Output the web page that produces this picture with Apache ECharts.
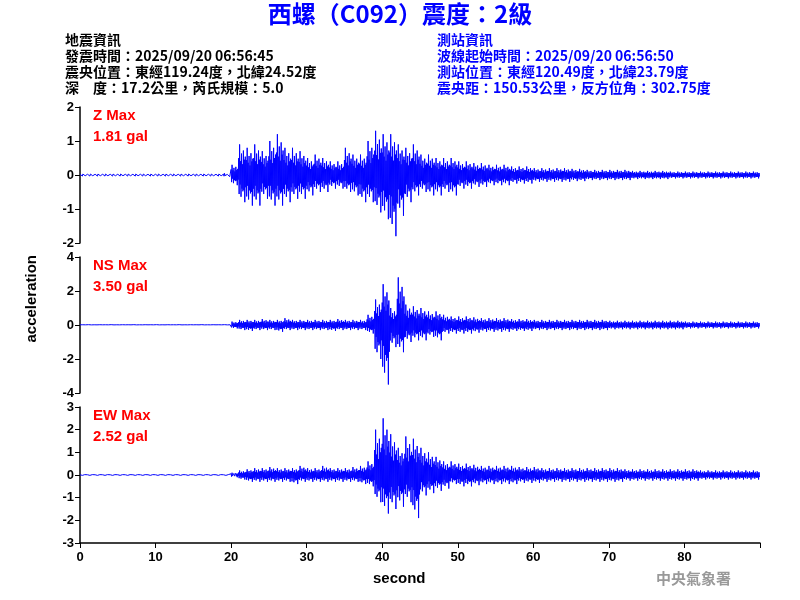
<!DOCTYPE html>
<html><head><meta charset="utf-8">
<script src="https://cdn.jsdelivr.net/npm/echarts@6/dist/echarts.min.js"></script>
<style>html,body{margin:0;padding:0;background:#fff}#c{width:800px;height:600px}</style>
</head><body><div id="c"></div>
<script>
// per-second envelope (max / min), seconds 0..89
const zUp = [0.04,0.04,0.04,0.04,0.04,0.04,0.04,0.04,0.04,0.04,0.04,0.04,0.04,0.04,0.04,0.04,0.04,0.04,0.04,0.05,
 0.3,0.9,0.8,0.9,0.7,1.0,1.2,0.8,0.8,0.7, 0.5,0.6,0.5,0.4,0.4,0.8,0.6,0.6,1.0,1.3,
 1.2,1.2,0.9,0.8,0.9,0.6,0.6,0.5,0.5,0.5, 0.4,0.4,0.35,0.35,0.3,0.3,0.3,0.25,0.25,0.25,
 0.2,0.2,0.2,0.2,0.2,0.18,0.18,0.15,0.15,0.15, 0.15,0.15,0.15,0.12,0.12,0.12,0.12,0.12,0.1,0.1,
 0.1,0.1,0.1,0.1,0.1,0.1,0.1,0.1,0.1,0.1];
const zLo = [-0.04,-0.04,-0.04,-0.04,-0.04,-0.04,-0.04,-0.04,-0.04,-0.04,-0.04,-0.04,-0.04,-0.04,-0.04,-0.04,-0.04,-0.04,-0.04,-0.05,
 -0.3,-0.8,-0.9,-0.9,-0.7,-0.9,-0.9,-0.8,-0.7,-0.7, -0.6,-0.5,-0.5,-0.4,-0.4,-0.5,-0.6,-0.8,-0.8,-1.1,
 -1.3,-1.8,-1.2,-0.8,-0.6,-0.5,-0.6,-0.6,-0.5,-0.6, -0.4,-0.4,-0.35,-0.35,-0.3,-0.3,-0.3,-0.25,-0.25,-0.25,
 -0.2,-0.2,-0.2,-0.2,-0.2,-0.18,-0.18,-0.15,-0.15,-0.15, -0.15,-0.15,-0.15,-0.12,-0.12,-0.12,-0.12,-0.12,-0.1,-0.1,
 -0.1,-0.1,-0.1,-0.1,-0.1,-0.1,-0.1,-0.1,-0.1,-0.1];
const nsUp = [0.02,0.02,0.02,0.02,0.02,0.02,0.02,0.02,0.02,0.02,0.02,0.02,0.02,0.02,0.02,0.02,0.02,0.02,0.02,0.02,
 0.2,0.3,0.3,0.3,0.35,0.3,0.3,0.4,0.3,0.3, 0.3,0.3,0.3,0.3,0.35,0.3,0.3,0.3,0.6,1.5,
 2.4,1.0,2.8,1.2,1.1,1.0,0.8,0.8,0.6,0.5, 0.5,0.5,0.45,0.4,0.4,0.4,0.4,0.35,0.35,0.35,
 0.3,0.3,0.3,0.3,0.3,0.3,0.3,0.3,0.3,0.3, 0.25,0.25,0.25,0.25,0.25,0.25,0.25,0.25,0.25,0.25,
 0.2,0.2,0.2,0.2,0.2,0.2,0.2,0.2,0.2,0.2];
const nsLo = [-0.02,-0.02,-0.02,-0.02,-0.02,-0.02,-0.02,-0.02,-0.02,-0.02,-0.02,-0.02,-0.02,-0.02,-0.02,-0.02,-0.02,-0.02,-0.02,-0.02,
 -0.2,-0.3,-0.35,-0.3,-0.3,-0.3,-0.4,-0.3,-0.3,-0.3, -0.3,-0.3,-0.3,-0.35,-0.3,-0.3,-0.3,-0.3,-0.5,-2.0,
 -3.5,-1.3,-1.6,-1.0,-0.9,-0.9,-0.7,-0.9,-0.5,-0.5, -0.5,-0.5,-0.45,-0.4,-0.4,-0.4,-0.4,-0.35,-0.35,-0.35,
 -0.3,-0.3,-0.3,-0.3,-0.3,-0.3,-0.3,-0.3,-0.3,-0.3, -0.25,-0.25,-0.25,-0.25,-0.25,-0.25,-0.25,-0.25,-0.25,-0.25,
 -0.2,-0.2,-0.2,-0.2,-0.2,-0.2,-0.2,-0.2,-0.2,-0.2];
const ewUp = [0.02,0.02,0.02,0.02,0.02,0.02,0.02,0.02,0.02,0.02,0.02,0.02,0.02,0.02,0.02,0.02,0.02,0.02,0.02,0.02,
 0.1,0.2,0.25,0.3,0.3,0.35,0.3,0.3,0.3,0.4, 0.3,0.3,0.4,0.3,0.3,0.3,0.35,0.4,0.6,2.0,
 2.5,1.8,1.2,1.7,1.6,1.2,1.0,0.8,0.6,0.6, 0.5,0.5,0.45,0.4,0.4,0.4,0.4,0.4,0.35,0.35,
 0.35,0.3,0.3,0.3,0.3,0.3,0.3,0.3,0.3,0.3, 0.3,0.3,0.25,0.25,0.25,0.25,0.25,0.25,0.25,0.25,
 0.25,0.25,0.2,0.2,0.2,0.2,0.2,0.2,0.2,0.2];
const ewLo = [-0.02,-0.02,-0.02,-0.02,-0.02,-0.02,-0.02,-0.02,-0.02,-0.02,-0.02,-0.02,-0.02,-0.02,-0.02,-0.02,-0.02,-0.02,-0.02,-0.02,
 -0.1,-0.2,-0.3,-0.3,-0.3,-0.3,-0.3,-0.3,-0.4,-0.3, -0.3,-0.3,-0.3,-0.3,-0.3,-0.3,-0.3,-0.4,-0.5,-1.2,
 -1.7,-1.5,-1.4,-1.2,-1.9,-0.9,-0.8,-0.7,-0.6,-0.4, -0.5,-0.5,-0.45,-0.4,-0.4,-0.4,-0.4,-0.4,-0.35,-0.35,
 -0.35,-0.3,-0.3,-0.3,-0.3,-0.3,-0.3,-0.3,-0.3,-0.3, -0.3,-0.3,-0.25,-0.25,-0.25,-0.25,-0.25,-0.25,-0.25,-0.25,
 -0.25,-0.25,-0.2,-0.2,-0.2,-0.2,-0.2,-0.2,-0.2,-0.2];
const xTicks = [0,10,20,30,40,50,60,70,80];
// fixed drawing weights for the swings inside each second (one swing reaches the read extreme)
const swingShape = [0.55,1.0,0.45,0.7,0.35,0.8,0.5,0.6];

function trace(up, lo){
  const d=[], n=swingShape.length;
  for(let i=0;i<up.length;i++){
    for(let k=0;k<n;k++){
      const wU=swingShape[k], wL=swingShape[(k+3)%n];
      d.push([i+k/n, up[i]*wU]); d.push([i+(k+0.5)/n, lo[i]*wL]);
    }
  }
  return d;
}
const ch = echarts.init(document.getElementById('c'));
const tops=[107,257,407], ranges=[[-2,2,1],[-4,4,2],[-3,3,1]];
const grids=tops.map(t=>({left:80,width:680,top:t,height:136}));
const xAxis=tops.map((t,i)=>({type:'value',gridIndex:i,min:0,max:90,interval:10,show:i===2,
  axisLine:{show:true,onZero:false,lineStyle:{color:'#000',width:1.5}},axisTick:{show:true,length:5,lineStyle:{color:'#000'}},
  axisLabel:{color:'#000',fontWeight:'bold',fontSize:13,fontFamily:'Liberation Sans',formatter:v=>xTicks.includes(v)?v:''},splitLine:{show:false}}));
const yAxis=ranges.map((r,i)=>({type:'value',gridIndex:i,min:r[0],max:r[1],interval:r[2],
  axisLine:{show:true,lineStyle:{color:'#000',width:1.5}},axisTick:{show:true,length:5,lineStyle:{color:'#000'}},
  axisLabel:{color:'#000',fontWeight:'bold',fontSize:13,fontFamily:'Liberation Sans',margin:6},splitLine:{show:false}}));
const data=[trace(zUp,zLo),trace(nsUp,nsLo),trace(ewUp,ewLo)];
const series=data.map((d,i)=>({type:'line',xAxisIndex:i,yAxisIndex:i,data:d,showSymbol:false,
  lineStyle:{color:'#0000ff',width:1},animation:false}));
const cjk='"Noto Sans CJK TC", "Liberation Sans", sans-serif';
const T=(x,y,s,o)=>Object.assign({type:'text',left:x,top:y,style:{text:s,fill:'#000',font:'bold 14px '+cjk}},o||{});
const red=(x,y,s)=>({type:'text',left:x,top:y,style:{text:s,fill:'#ff0000',font:'bold 15px "Liberation Sans"'}});
const blue=(x,y,s)=>T(x,y,s,{style:{text:s,fill:'#0000ff',font:'bold 14px '+cjk}});
ch.setOption({animation:false,grid:grids,xAxis,yAxis,series,
 graphic:[
  {type:'text',left:'center',top:2,style:{text:'西螺（C092）震度：2級',fill:'#0000ff',font:'bold 24px '+cjk}},
  T(65,33,'地震資訊'),T(65,49,'發震時間：2025/09/20 06:56:45'),T(65,65,'震央位置：東經119.24度，北緯24.52度'),T(65,81,'深　度：17.2公里，芮氏規模：5.0'),
  blue(437,33,'測站資訊'),blue(437,49,'波線起始時間：2025/09/20 06:56:50'),blue(437,65,'測站位置：東經120.49度，北緯23.79度'),blue(437,81,'震央距：150.53公里，反方位角：302.75度'),
  red(93,108,'Z Max'),red(93,129,'1.81 gal'),red(93,258,'NS Max'),red(93,279,'3.50 gal'),red(93,408,'EW Max'),red(93,429,'2.52 gal'),
  {type:'text',left:24,top:255,rotation:Math.PI/2,style:{text:'acceleration',fill:'#000',font:'bold 15px "Liberation Sans"'}},
  {type:'text',left:373,top:571,style:{text:'second',fill:'#000',font:'bold 15px "Liberation Sans"'}},
  {type:'text',left:656,top:571,style:{text:'中央氣象署',fill:'#999',font:'bold 15px '+cjk}}
 ]});
</script></body></html>
